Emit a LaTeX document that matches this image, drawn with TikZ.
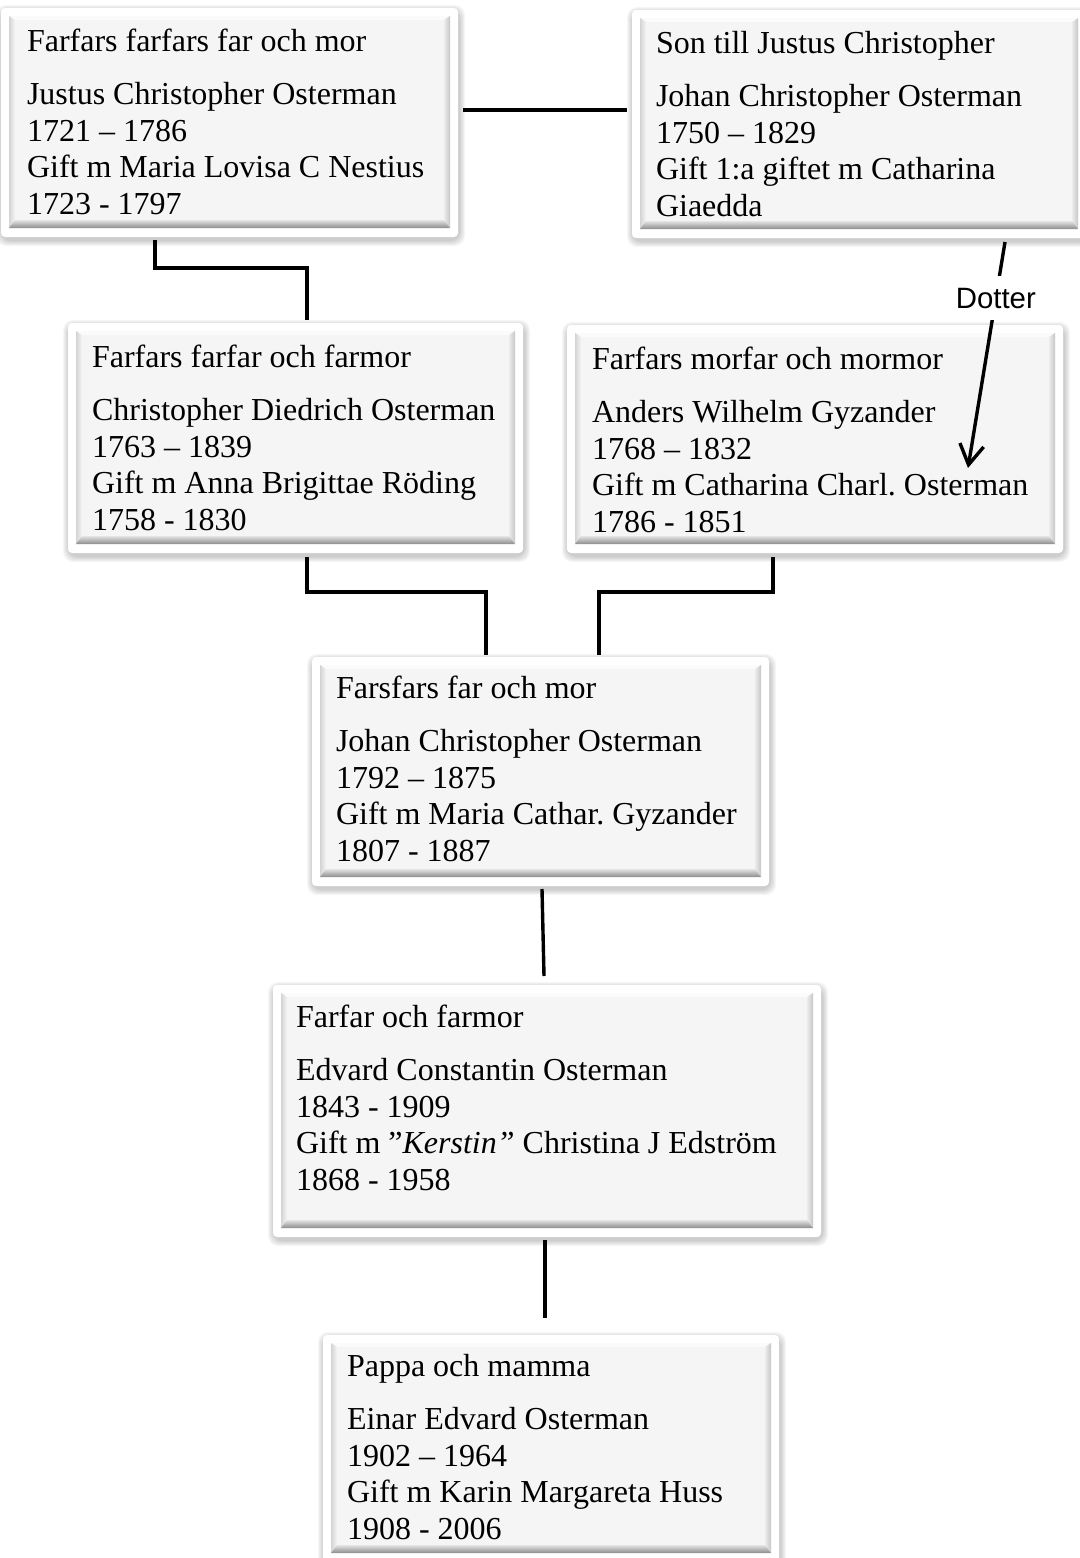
\documentclass[tikz,border=0pt]{standalone}
\usepackage{fontspec}
\setmainfont{Liberation Serif}
\newfontfamily\lblfont{Liberation Sans}
\usetikzlibrary{calc,arrows.meta}
\frenchspacing
\definecolor{innerfill}{RGB}{245,245,245}
\definecolor{bvltop}{RGB}{251,251,251}
\definecolor{bvlleft}{RGB}{212,212,212}
\definecolor{bvlrightin}{RGB}{236,236,236}
\definecolor{bvlrightout}{RGB}{198,198,198}
\definecolor{bvlbotin}{RGB}{228,228,228}
\definecolor{bvlbotout}{RGB}{140,140,140}
\newcommand\famBox[5]{%
  \foreach \s in {6,5,4,3,2,1}{%
    \fill[black,opacity=0.035,rounded corners=5pt] ({#2-\s+1},{#3-\s+3}) rectangle ({#4+\s+1},{#5+\s+3});}
  \fill[white,rounded corners=2pt] (#2,#3) rectangle (#4,#5);
  \fill[innerfill] ({#2+8},{#3+8}) rectangle ({#4-8},{#5-9});
  \fill[bvltop] ({#2+8},{#3+8}) -- ({#4-8},{#3+8}) -- ({#4-14},{#3+12}) -- ({#2+14},{#3+12}) -- cycle;
  \shade[left color=bvlleft, right color=innerfill] ({#2+8},{#3+8}) -- ({#2+14},{#3+12}) -- ({#2+14},{#5-17}) -- ({#2+8},{#5-9}) -- cycle;
  \shade[left color=bvlrightin, right color=bvlrightout] ({#4-8},{#3+8}) -- ({#4-14},{#3+12}) -- ({#4-14},{#5-17}) -- ({#4-8},{#5-9}) -- cycle;
  \shade[top color=bvlbotin, bottom color=bvlbotout] ({#2+8},{#5-9}) -- ({#2+14},{#5-17}) -- ({#4-14},{#5-17}) -- ({#4-8},{#5-9}) -- cycle;
  \node[inner sep=0pt, outer sep=0pt, minimum width={(#4-#2)*0.5pt}, minimum height={(#5-#3)*0.5pt}] (#1) at ({(#2+#4)/2},{(#3+#5)/2}) {};
}
\newcommand\famText[4]{\node[txt] (#1) at (#2,{#3-25.5}) {\strut #4};}
\begin{document}
\begin{tikzpicture}[x=0.5pt,y=-0.5pt,
  conn/.style={line width=1.7pt, black},
  txt/.style={inner sep=0pt, outer sep=0pt, align=left, anchor=north west, font=\fontsize{16}{18.2}\selectfont},
  lbl/.style={fill=white, inner sep=0pt, minimum width=62pt, minimum height=22pt, font=\lblfont\fontsize{14.7}{17}\selectfont}]
\useasboundingbox (0,0) rectangle (1080,1558);
\clip (0,0) rectangle (1080,1558);

\famBox{b1}{1}{8}{458}{237}
\famText{b1t}{27}{52}{Farfars farfars far och mor\\[8.3pt] Justus Christopher Osterman\\ 1721 – 1786\\ Gift m Maria Lovisa C Nestius\\ 1723 - 1797}

\famBox{b2}{632}{10}{1086}{238}
\famText{b2t}{656}{54}{Son till Justus Christopher\\[8.3pt] Johan Christopher Osterman\\ 1750 – 1829\\ Gift 1:a giftet m Catharina\\ Giaedda}

\famBox{b3}{68}{323}{523}{553}
\famText{b3t}{92}{368}{Farfars farfar och farmor\\[8.3pt] Christopher Diedrich Osterman\\ 1763 – 1839\\ Gift m Anna Brigittae Röding\\ 1758 - 1830}

\famBox{b4}{567}{325}{1063}{553}
\famText{b4t}{592}{370}{Farfars morfar och mormor\\[8.3pt] Anders Wilhelm Gyzander\\ 1768 – 1832\\ Gift m Catharina Charl. Osterman\\ 1786 - 1851}

\famBox{b5}{312}{657}{769}{886}
\famText{b5t}{336}{699}{Farsfars far och mor\\[8.3pt] Johan Christopher Osterman\\ 1792 – 1875\\ Gift m Maria Cathar. Gyzander\\ 1807 - 1887}

\famBox{b6}{273}{985}{821}{1237}
\famText{b6t}{296}{1028}{Farfar och farmor\\[8.3pt] Edvard Constantin Osterman\\ 1843 - 1909\\ Gift m ”\textit{Kerstin”} Christina J Edström\\ 1868 - 1958}

\famBox{b7}{323}{1335}{779}{1562}
\famText{b7t}{347}{1377}{Pappa och mamma\\[8.3pt] Einar Edvard Osterman\\ 1902 – 1964\\ Gift m Karin Margareta Huss\\ 1908 - 2006}

\draw[conn] ($(b1.north east)+(5,102)$) -- ($(b2.north west)+(-5,100)$);
\draw[conn] ($(b1.south west)+(154,3)$) |- ($(b3.north west)+(239,-55)$) -- ($(b3.north west)+(239,-3)$);
\draw[conn] ($(b3.south west)+(239,4)$) |- ($(b5.north west)+(174,-65)$) -- ($(b5.north west)+(174,-2)$);
\draw[conn] ($(b4.south west)+(206,4)$) |- ($(b5.north west)+(287,-65)$) -- ($(b5.north west)+(287,-2)$);
\draw[conn] ($(b5.south west)+(230,3)$) -- ($(b6.north west)+(271,-9)$);
\draw[conn] ($(b6.south west)+(272,3)$) -- ($(b7.north west)+(222,-17)$);
\draw[conn, -{Straight Barb[length=10pt,width=12pt]}] ($(b2.south west)+(373,4)$) -- ($(b4.north west)+(401,143)$) node[lbl, pos=0.248] (dot) {Dotter};
\end{tikzpicture}
\end{document}
